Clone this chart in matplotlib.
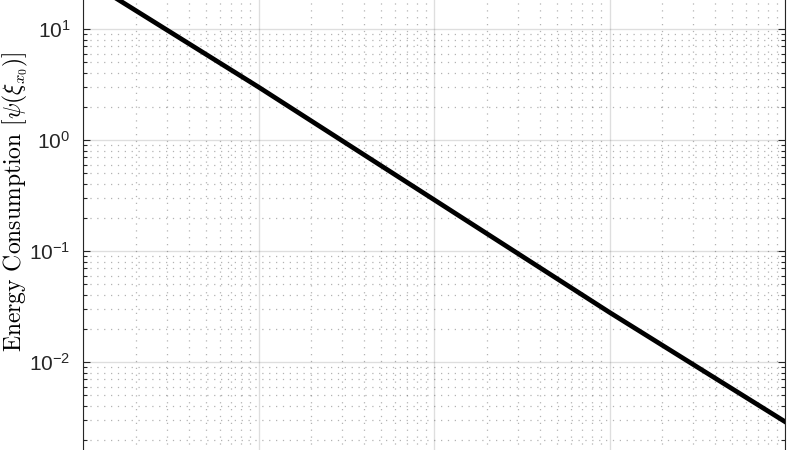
import matplotlib
matplotlib.use("Agg")
import matplotlib.pyplot as plt
from matplotlib.ticker import LogLocator, NullFormatter

# values (log-log straight line)
x_vals = [1, 10, 100, 1000, 10000]
energy = [29, 3.0, 0.29, 0.028, 0.0029]

plt.rcParams['font.family'] = ['Liberation Sans', 'DejaVu Sans']
plt.rcParams['mathtext.fontset'] = 'custom'
plt.rcParams['mathtext.rm'] = 'Liberation Sans'
plt.rcParams['mathtext.it'] = 'Liberation Sans:italic'
plt.rcParams['axes.unicode_minus'] = False

fig = plt.figure(figsize=(8, 4.5), dpi=100)

# axes runs slightly past the top and bottom of the picture (cropped figure)
dec = 111 / 450.0
y0 = 1 - 140 / 450.0
lo, hi = -2.9, 1.35
ax = fig.add_axes([83 / 800, y0 + lo * dec, 702 / 800, (hi - lo) * dec])

ax.plot(x_vals, energy, color='black', linewidth=3.4)
ax.set_xscale('log')
ax.set_yscale('log')
ax.set_xlim(1, 1e4)
ax.set_ylim(10 ** lo, 10 ** hi)

ax.yaxis.set_major_locator(LogLocator(base=10, numticks=10))
ax.yaxis.set_minor_locator(LogLocator(base=10, subs=range(2, 10), numticks=20))
ax.yaxis.set_minor_formatter(NullFormatter())
ax.xaxis.set_minor_locator(LogLocator(base=10, subs=range(2, 10), numticks=20))

ax.grid(True, which='major', color='#262626', alpha=0.15, linewidth=1.0, linestyle='-')
ax.grid(True, which='minor', color='#262626', alpha=0.35, linewidth=0.9,
        linestyle=(0, (1, 4.5)))
ax.set_axisbelow(True)

ax.tick_params(which='both', direction='in', left=True, right=True, top=False,
               bottom=False, color='#262626', labelsize=15, labelcolor='#262626',
               labelbottom=False)
ax.tick_params(which='major', length=5, width=0.8, pad=9)
ax.tick_params(which='minor', length=3, width=0.8)
for sp in ax.spines.values():
    sp.set_color('#262626')
    sp.set_linewidth(0.8)

ax.set_ylabel(r'Energy Consumption [$\psi(\xi_{x_0})$]', fontsize=17,
              math_fontfamily='cm')
ax.yaxis.label.set_fontfamily(['cmr10', 'DejaVu Serif'])
ax.yaxis.set_label_coords(0.038, 0.553, transform=fig.transFigure)

fig.savefig('out.png', dpi=100)
